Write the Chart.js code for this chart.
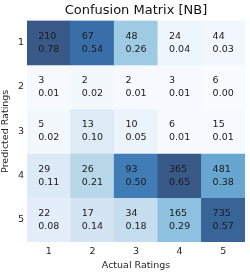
<!DOCTYPE html>
<html><head><meta charset="utf-8">
<script src="https://cdn.jsdelivr.net/npm/chart.js@4"></script>
<style>html,body{margin:0;padding:0;background:#fff}#w{width:250px;height:275px}</style>
</head><body><div id="w"><canvas id="c" width="250" height="275"></canvas></div>
<script>
const actualLabels = ['1','2','3','4','5'];
const predictedLabels = ['1','2','3','4','5'];
const counts1 = [210, 67, 48, 24, 44];
const counts2 = [3, 2, 2, 3, 6];
const counts3 = [5, 13, 10, 6, 15];
const counts4 = [29, 26, 93, 365, 481];
const counts5 = [22, 17, 34, 165, 735];
const frac1 = [0.78, 0.54, 0.26, 0.04, 0.03];
const frac2 = [0.01, 0.02, 0.01, 0.01, 0.00];
const frac3 = [0.02, 0.10, 0.05, 0.01, 0.01];
const frac4 = [0.11, 0.21, 0.50, 0.65, 0.38];
const frac5 = [0.08, 0.14, 0.18, 0.29, 0.57];
const countRows = [counts1, counts2, counts3, counts4, counts5];
const fracRows = [frac1, frac2, frac3, frac4, frac5];

const blues = ['#f7fbff','#deebf7','#c6dbef','#9ecae1','#6baed6','#4292c6','#2171b5','#08519c','#08306b'];
const VMAX = 0.6, ALPHA = 0.8;
function hex(h){return [parseInt(h.substr(1,2),16),parseInt(h.substr(3,2),16),parseInt(h.substr(5,2),16)];}
function cmap(v){
  let t = Math.max(0, Math.min(1, v / VMAX)) * (blues.length - 1);
  let i = Math.min(Math.floor(t), blues.length - 2), f = t - i;
  const a = hex(blues[i]), b = hex(blues[i+1]);
  const c = a.map((x,k)=> x + (b[k]-x)*f).map(x => Math.round(ALPHA*x + (1-ALPHA)*255));
  return `rgb(${c[0]},${c[1]},${c[2]})`;
}

const datasets = fracRows.map((row, r) => ({
  data: row.map(() => [r + 0.5, r + 1.5]),
  backgroundColor: row.map(cmap),
  borderWidth: 0,
  grouped: false,
  barPercentage: 1,
  categoryPercentage: 1
}));

const cellText = {
  id: 'cellText',
  afterDatasetsDraw(chart) {
    const ctx = chart.ctx;
    ctx.save();
    ctx.font = '9.5px "DejaVu Sans"';
    ctx.fillStyle = '#1a1a1a';
    ctx.textBaseline = 'middle';
    ctx.textAlign = 'left';
    const xs = chart.scales.x, ys = chart.scales.y;
    countRows.forEach((row, r) => {
      row.forEach((cnt, c) => {
        const cx = xs.getPixelForValue(c);
        const cy = ys.getPixelForValue(r + 1);
        const l1 = String(cnt), l2 = fracRows[r][c].toFixed(2);
        const w = Math.max(ctx.measureText(l1).width, ctx.measureText(l2).width);
        const x0 = cx - w / 2;
        ctx.fillText(l1, x0, cy - 6.5);
        ctx.fillText(l2, x0, cy + 6.5);
      });
    });
    ctx.restore();
  }
};

Chart.defaults.font.family = '"DejaVu Sans"';
Chart.defaults.color = '#262626';
new Chart(document.getElementById('c'), {
  type: 'bar',
  data: { labels: actualLabels, datasets },
  options: {
    responsive: false,
    animation: false,
    layout: { padding: { left: 0, right: 5, top: 0, bottom: 0 } },
    plugins: {
      legend: { display: false },
      tooltip: { enabled: false },
      title: { display: true, text: 'Confusion Matrix [NB]', color: '#111', fullSize: false,
        font: { size: 13, weight: 'normal' }, padding: { top: 3, bottom: 2 } }
    },
    scales: {
      x: {
        type: 'category', offset: true,
        grid: { display: false, drawTicks: false }, border: { display: false },
        ticks: { font: { size: 9.5 }, padding: 4, maxRotation: 0 },
        title: { display: true, text: 'Actual Ratings', font: { size: 9.5 }, padding: { top: 0, bottom: 4 } },
        afterFit(s) { s.height = 33; }
      },
      y: {
        type: 'linear', min: 0.5, max: 5.5, reverse: true,
        grid: { display: false, drawTicks: false }, border: { display: false },
        afterBuildTicks(s) { s.ticks = predictedLabels.map((l, i) => ({ value: i + 1 })); },
        ticks: { font: { size: 9.5 }, padding: 3, callback: (v) => predictedLabels[Math.round(v) - 1] },
        title: { display: true, text: 'Predicted Ratings', font: { size: 9.5 }, padding: { top: 0, bottom: 2 } },
        afterFit(s) { s.width = 27; }
      }
    }
  },
  plugins: [cellText]
});
</script></body></html>
